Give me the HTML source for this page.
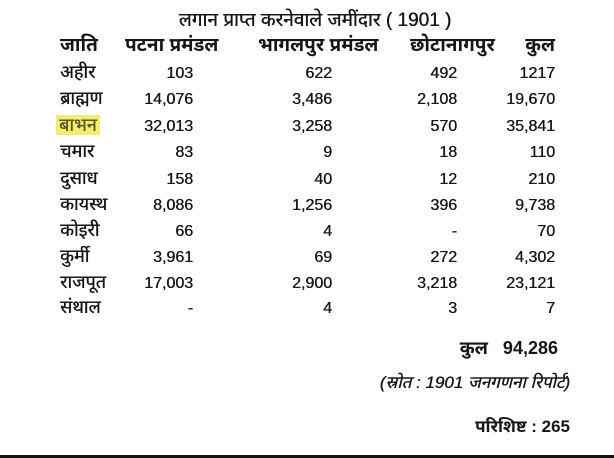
<!DOCTYPE html>
<html><head><meta charset="utf-8">
<style>
html,body{margin:0;padding:0;background:#fff;}
body{width:614px;height:458px;position:relative;overflow:hidden;
font-family:"Liberation Sans","Noto Sans Devanagari","Lohit Devanagari","Noto Sans CJK SC",sans-serif;color:#161616;}
.t{position:absolute;white-space:nowrap;line-height:24px;height:24px;text-shadow:0.4px 0 0 currentColor;}
.h{font-size:19px;font-weight:bold;text-shadow:none;}
.n{font-size:16px;text-align:right;}
.l{font-size:18px;left:60px;}
.hl{background:#f2ec72;color:#5a571c;padding:0 3px;margin-left:-4px;}
.bar{position:absolute;left:0;right:0;top:455px;height:3px;background:#111;}
</style></head><body>
<div class="t" style="left:170px;top:9px;width:290px;text-align:center;font-size:19px;">लगान प्राप्त करनेवाले जमींदार ( 1901 )</div>

<div class="t h" style="left:60px;top:34px;">जाति</div>
<div class="t h" style="left:125px;top:34px;">पटना प्रमंडल</div>
<div class="t h" style="left:258px;top:34px;">भागलपुर प्रमंडल</div>
<div class="t h" style="left:410px;top:34px;">छोटानागपुर</div>
<div class="t h" style="right:59px;top:34px;">कुल</div>

<!-- rows -->
<div class="t l" style="top:60px;">अहीर</div>
<div class="t n" style="right:421px;top:62px;">103</div>
<div class="t n" style="right:282px;top:62px;">622</div>
<div class="t n" style="right:157px;top:62px;">492</div>
<div class="t n" style="right:59px;top:62px;">1217</div>

<div class="t l" style="top:86px;">ब्राह्मण</div>
<div class="t n" style="right:421px;top:88px;">14,076</div>
<div class="t n" style="right:282px;top:88px;">3,486</div>
<div class="t n" style="right:157px;top:88px;">2,108</div>
<div class="t n" style="right:59px;top:88px;">19,670</div>

<div class="t l" style="top:113px;"><span class="hl">बाभन</span></div>
<div class="t n" style="right:421px;top:115px;">32,013</div>
<div class="t n" style="right:282px;top:115px;">3,258</div>
<div class="t n" style="right:157px;top:115px;">570</div>
<div class="t n" style="right:59px;top:115px;">35,841</div>

<div class="t l" style="top:139px;">चमार</div>
<div class="t n" style="right:421px;top:141px;">83</div>
<div class="t n" style="right:282px;top:141px;">9</div>
<div class="t n" style="right:157px;top:141px;">18</div>
<div class="t n" style="right:59px;top:141px;">110</div>

<div class="t l" style="top:166px;">दुसाध</div>
<div class="t n" style="right:421px;top:168px;">158</div>
<div class="t n" style="right:282px;top:168px;">40</div>
<div class="t n" style="right:157px;top:168px;">12</div>
<div class="t n" style="right:59px;top:168px;">210</div>

<div class="t l" style="top:192px;">कायस्थ</div>
<div class="t n" style="right:421px;top:194px;">8,086</div>
<div class="t n" style="right:282px;top:194px;">1,256</div>
<div class="t n" style="right:157px;top:194px;">396</div>
<div class="t n" style="right:59px;top:194px;">9,738</div>

<div class="t l" style="top:218px;">कोइरी</div>
<div class="t n" style="right:421px;top:220px;">66</div>
<div class="t n" style="right:282px;top:220px;">4</div>
<div class="t n" style="right:157px;top:220px;">-</div>
<div class="t n" style="right:59px;top:220px;">70</div>

<div class="t l" style="top:244px;">कुर्मी</div>
<div class="t n" style="right:421px;top:246px;">3,961</div>
<div class="t n" style="right:282px;top:246px;">69</div>
<div class="t n" style="right:157px;top:246px;">272</div>
<div class="t n" style="right:59px;top:246px;">4,302</div>

<div class="t l" style="top:270px;">राजपूत</div>
<div class="t n" style="right:421px;top:272px;">17,003</div>
<div class="t n" style="right:282px;top:272px;">2,900</div>
<div class="t n" style="right:157px;top:272px;">3,218</div>
<div class="t n" style="right:59px;top:272px;">23,121</div>

<div class="t l" style="top:295px;">संथाल</div>
<div class="t n" style="right:421px;top:297px;">-</div>
<div class="t n" style="right:282px;top:297px;">4</div>
<div class="t n" style="right:157px;top:297px;">3</div>
<div class="t n" style="right:59px;top:297px;">7</div>

<div class="t" style="right:56px;top:336px;font-size:18px;font-weight:bold;text-shadow:none;">कुल&nbsp;&nbsp;&nbsp;94,286</div>
<div class="t" style="right:44px;top:371px;font-size:17px;font-style:italic;">(स्रोत : 1901 जनगणना रिपोर्ट)</div>
<div class="t" style="right:44px;top:415px;font-size:17px;font-weight:bold;text-shadow:none;">परिशिष्ट : 265</div>

<div class="bar"></div>
</body></html>
